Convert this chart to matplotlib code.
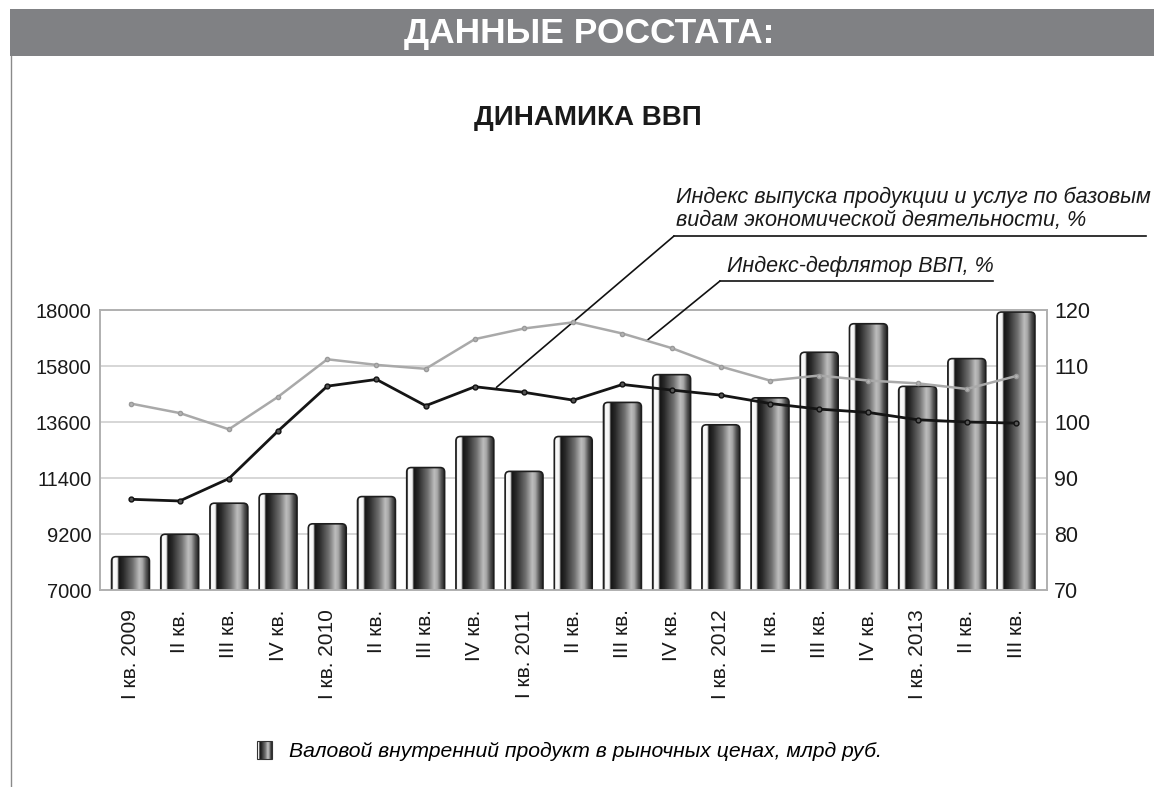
import numpy as np
import matplotlib
matplotlib.use("Agg")
import matplotlib.pyplot as plt
from matplotlib.colors import LinearSegmentedColormap
from matplotlib.patches import FancyBboxPatch, Rectangle
from matplotlib.lines import Line2D
from matplotlib.legend_handler import HandlerBase
from matplotlib.image import BboxImage
from matplotlib.transforms import Bbox, TransformedBbox

plt.rcParams['font.family'] = ['Liberation Sans', 'DejaVu Sans']

# ---------------- data ----------------
quarters = ["I кв. 2009", "II кв.", "III кв.", "IV кв.",
            "I кв. 2010", "II кв.", "III кв.", "IV кв.",
            "I кв. 2011", "II кв.", "III кв.", "IV кв.",
            "I кв. 2012", "II кв.", "III кв.", "IV кв.",
            "I кв. 2013", "II кв.", "III кв."]
gdp = [8310, 9190, 10410, 10780, 9600, 10670, 11810, 13030, 11660, 13030,
       14370, 15460, 13490, 14550, 16340, 17460, 15000, 16090, 17920]
output_index = [86.2, 85.9, 89.9, 98.4, 106.4, 107.6, 102.9, 106.3, 105.3, 103.9,
                106.7, 105.7, 104.8, 103.3, 102.3, 101.7, 100.4, 100.0, 99.8]
deflator = [103.3, 101.6, 98.7, 104.5, 111.2, 110.2, 109.5, 114.8, 116.7, 117.8,
            115.8, 113.2, 109.9, 107.4, 108.3, 107.4, 106.9, 105.9, 108.2]
left_ticks = [7000, 9200, 11400, 13600, 15800, 18000]
right_ticks = [70, 80, 90, 100, 110, 120]

header_text = "ДАННЫЕ РОССТАТА:"
title_text = "ДИНАМИКА ВВП"
label_output = "Индекс выпуска продукции и услуг по базовым\nвидам экономической деятельности, %"
label_deflator = "Индекс-дефлятор ВВП, %"
label_gdp = "Валовой внутренний продукт в рыночных ценах, млрд руб."

# ---------------- figure ----------------
W, H = 1154, 787
fig = plt.figure(figsize=(W / 100, H / 100), dpi=100)
fig.patch.set_facecolor('white')

def fx(px):
    return px / W

def fy(py):
    return 1 - py / H

# header band
fig.patches.append(Rectangle((fx(10), fy(56)), fx(1154) - fx(10), fy(9) - fy(56),
                             transform=fig.transFigure, facecolor='#808184',
                             edgecolor='none', zorder=0))
fig.lines.append(Line2D([fx(10.5), fx(10.5)], [fy(56), 0], transform=fig.transFigure,
                        color='#8a8a8a', lw=1))
fig.text(fx(589), fy(33), header_text, color='white', fontsize=25.5, fontweight='bold',
         ha='center', va='center')
fig.text(fx(588), fy(118), title_text, color='#1a1a1a', fontsize=20, fontweight='bold',
         ha='center', va='center')

# axes
ax = fig.add_axes([fx(100), fy(590), fx(1047) - fx(100), fy(310) - fy(590)])
ax2 = ax.twinx()
x = np.arange(len(quarters))
ax.set_xlim(-0.62, 18.63)
ax.set_ylim(7000, 18000)
ax2.set_ylim(70, 120)

ax.set_yticks(left_ticks)
ax.set_yticklabels([str(t) for t in left_ticks])
ax2.set_yticks(right_ticks)
ax2.set_yticklabels([str(t) for t in right_ticks])
ax.set_xticks(x)
ax.set_xticklabels(quarters, rotation=90, va='top', ha='center')
ax.tick_params(axis='x', length=0, pad=14, labelsize=15, labelcolor='#1a1a1a')
ax.tick_params(axis='y', length=0, pad=6, labelsize=14.5, labelcolor='#1a1a1a')
ax2.tick_params(axis='y', length=0, pad=5, labelsize=15.5, labelcolor='#1a1a1a')
ax.grid(axis='y', color='#cfcfcf', lw=1.2)
ax.set_axisbelow(True)
for a in (ax, ax2):
    for s in a.spines.values():
        s.set_color('#b0b0b0')
        s.set_linewidth(1.2)

# bars with cylindrical gradient
bar_cmap = LinearSegmentedColormap.from_list('cyl', [
    (0.00, '#3a3a3a'), (0.03, '#ffffff'), (0.14, '#f2f2f2'), (0.18, '#141414'),
    (0.30, '#2a2a2a'), (0.55, '#717171'), (0.72, '#bdbdbd'), (0.80, '#a8a8a8'),
    (0.91, '#505050'), (1.00, '#222222')])
grad = np.linspace(0, 1, 256).reshape(1, -1)

bars = ax.bar(x, gdp, width=0.77, color='none', edgecolor='none')
r = 0.09
asp = (4.4 * 39.36) / r
for rect in bars:
    bx, bw, bh = rect.get_x(), rect.get_width(), rect.get_height()
    patch = FancyBboxPatch((bx, 0), bw, bh, boxstyle=f"round,pad=0,rounding_size={r}",
                           mutation_aspect=asp, facecolor='none', edgecolor='#1e1e1e',
                           lw=1.2, zorder=3)
    ax.add_patch(patch)
    im = ax.imshow(grad, cmap=bar_cmap, extent=(bx, bx + bw, 0, bh), aspect='auto',
                   interpolation='bilinear', zorder=2)
    im.set_clip_path(patch)
ax.set_xlim(-0.62, 18.63)
ax.set_ylim(7000, 18000)

# lines
ax2.plot(x, deflator, color='#a9a9a9', lw=1.8, marker='o', ms=3,
         mfc='#b5b5b5', mec='#9a9a9a', zorder=4)
ax2.plot(x, output_index, color='#151515', lw=2.0, marker='o', ms=3.5,
         mfc='#555555', mec='#111111', zorder=5)

# annotations with leader lines
ax2.annotate('', xy=(7.44, 106.2), xytext=(674, H - 236), textcoords='figure pixels',
             arrowprops=dict(arrowstyle='-', color='#111111', lw=1.2, shrinkA=0, shrinkB=0))
ax2.annotate('', xy=(10.49, 114.5), xytext=(720, H - 281), textcoords='figure pixels',
             arrowprops=dict(arrowstyle='-', color='#111111', lw=1.2, shrinkA=0, shrinkB=0))
fig.lines.append(Line2D([fx(674), fx(1146)], [fy(236), fy(236)], transform=fig.transFigure,
                        color='#111111', lw=1.2))
fig.lines.append(Line2D([fx(720), fx(993)], [fy(281), fy(281)], transform=fig.transFigure,
                        color='#111111', lw=1.2))
fig.text(fx(676), fy(231), label_output, fontsize=15.6, style='italic', color='#1a1a1a',
         ha='left', va='bottom', linespacing=1.15)
fig.text(fx(727), fy(277), label_deflator, fontsize=15.5, style='italic', color='#1a1a1a',
         ha='left', va='bottom')

# legend with gradient handle
class GradHandler(HandlerBase):
    def create_artists(self, legend, orig_handle, xdescent, ydescent, width, height,
                       fontsize, trans):
        bb = Bbox.from_bounds(-xdescent, -ydescent, width, height)
        img = BboxImage(TransformedBbox(bb, trans), cmap=bar_cmap, interpolation='bilinear')
        img.set_data(grad)
        frame = Rectangle((-xdescent, -ydescent), width, height, facecolor='none',
                          edgecolor='#333333', lw=0.8, transform=trans)
        return [img, frame]

proxy = Rectangle((0, 0), 1, 1)
fig.legend([proxy], [label_gdp], handler_map={Rectangle: GradHandler()},
           loc='center left', bbox_to_anchor=(fx(257), fy(751)), frameon=False,
           prop={'size': 15.2, 'style': 'italic'}, handlelength=0.7, handleheight=0.9,
           handletextpad=0.8, borderpad=0, borderaxespad=0)

fig.savefig('out.png', dpi=100)
